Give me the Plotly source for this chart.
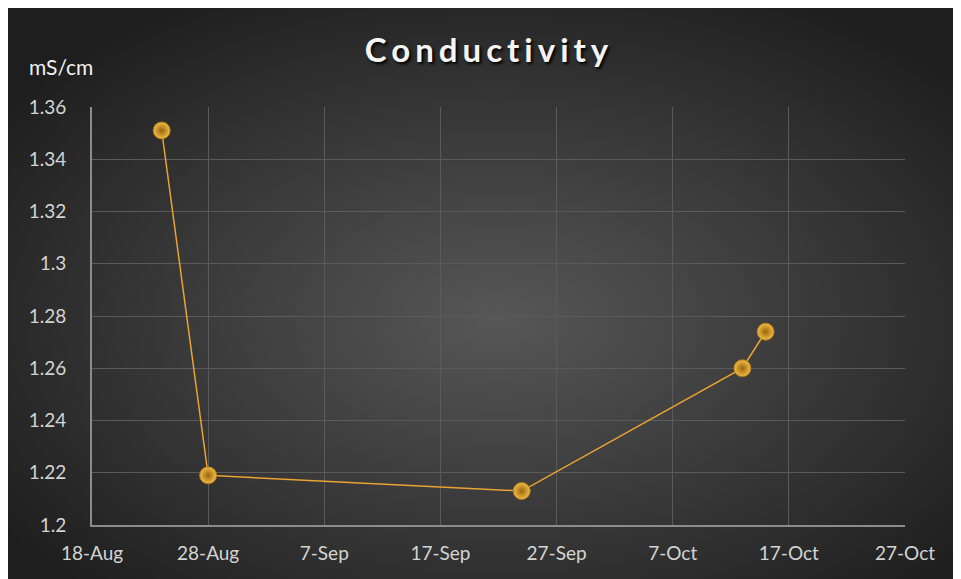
import base64
import plotly.graph_objects as go

# sample dates and conductivity readings
dates = ["2021-08-24", "2021-08-28", "2021-09-24", "2021-10-13", "2021-10-15"]
conductivity = [1.351, 1.219, 1.213, 1.260, 1.274]

title_text = "Conductivity"
unit_text = "mS/cm"

W, H = 961, 579
# plot area inside the figure (the page adds an 8px body margin)
x0, x1, y0, y1 = 84, 897, 99, 517
pw, ph = x1 - x0, y1 - y0

# dark radial background panel with a rounded top-left corner
bg_svg = f"""<svg xmlns='http://www.w3.org/2000/svg' width='{W}' height='{H}'
 viewBox='0 0 {W} {H}' preserveAspectRatio='none'>
<defs><radialGradient id='g' cx='50%' cy='52%' r='62%'>
<stop offset='0%' stop-color='#575757'/><stop offset='100%' stop-color='#1e1e1e'/>
</radialGradient></defs>
<rect x='0' y='0' width='{W + 20}' height='{H + 20}' rx='10' ry='10' fill='url(#g)'/>
</svg>"""
bg_uri = "data:image/svg+xml;base64," + base64.b64encode(bg_svg.encode()).decode()

fig = go.Figure()

fig.add_trace(go.Scatter(
    x=dates,
    y=conductivity,
    mode="lines+markers",
    line=dict(color="#e9a431", width=1.5),
    marker=dict(
        size=17,
        color="#f0bd48",
        gradient=dict(type="radial", color="#9c640c"),
        line=dict(color="#b07a16", width=1),
    ),
    showlegend=False,
))

fig.add_layout_image(dict(
    source=bg_uri,
    xref="paper", yref="paper",
    x=-x0 / pw, y=y1 / ph,
    sizex=W / pw, sizey=H / ph,
    sizing="stretch",
    xanchor="left", yanchor="top",
    layer="below",
))

tick_font = dict(family="Lato, sans-serif", size=19, color="#d4d4d4")

fig.update_layout(
    width=W,
    height=H,
    margin=dict(l=x0, r=W - x1, t=y0, b=H - y1),
    paper_bgcolor="#1e1e1e",
    plot_bgcolor="rgba(0,0,0,0)",
    title=dict(
        text="<span style='letter-spacing:5px'>" + title_text + "</span>",
        x=(481 - x0) / pw, xref="paper", xanchor="center",
        y=1 - 42 / H, yanchor="middle",
        font=dict(family="Lato, sans-serif", size=33, color="#f4f4f4",
                  weight="bold", shadow="2px 2px 3px #000000"),
    ),
    xaxis=dict(
        type="date",
        range=["2021-08-18", "2021-10-27"],
        tick0="2021-08-18",
        dtick=10 * 24 * 3600 * 1000,
        tickformat="%-d-%b",
        tickfont=tick_font,
        showgrid=True,
        gridcolor="#5a5a5a",
        gridwidth=1,
        showline=True,
        linecolor="#8c8c8c",
        linewidth=2,
        ticks="",
        ticklabelstandoff=10,
        zeroline=False,
    ),
    yaxis=dict(
        range=[1.2, 1.36],
        dtick=0.02,
        tickfont=tick_font,
        showgrid=True,
        gridcolor="#5a5a5a",
        gridwidth=1,
        showline=True,
        linecolor="#8c8c8c",
        linewidth=2,
        ticks="",
        ticklabelstandoff=20,
        zeroline=False,
    ),
    annotations=[dict(
        text=unit_text,
        xref="paper", yref="paper",
        x=(19 - x0) / pw, y=(y1 - 59) / ph,
        xanchor="left", yanchor="middle",
        showarrow=False,
        font=dict(family="Lato, sans-serif", size=21, color="#f0f0f0"),
    )],
)

fig.write_html("out.html")
